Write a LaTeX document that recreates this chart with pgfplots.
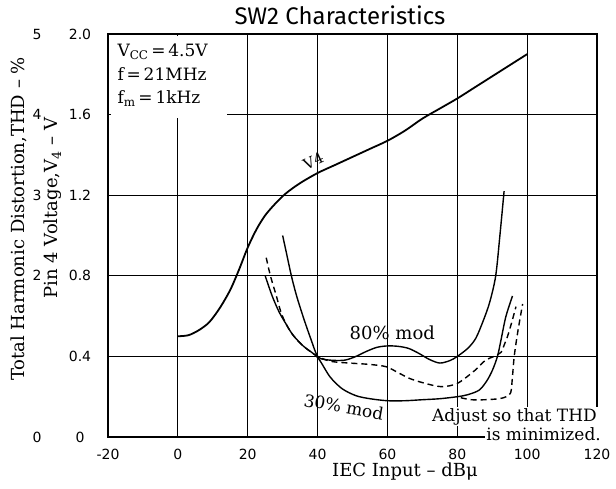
\documentclass[border=0pt]{standalone}
\usepackage{fontspec}
\setmainfont{DejaVu Serif}
\newfontfamily\titlefont{Fira Sans}
\newfontfamily\tickfont{DejaVu Sans}
\usepackage{pgfplots}
\pgfplotsset{compat=1.18}
\begin{document}
\begin{tikzpicture}
\useasboundingbox (-108pt,-51pt) rectangle (508pt,437pt);
\begin{axis}[
    width=489pt, height=403pt, scale only axis,
    xmin=-20, xmax=120, ymin=0, ymax=2,
    xtick={-20,0,20,40,60,80,100,120},
    ytick={0,0.4,0.8,1.2,1.6,2.0},
    yticklabels={0,0.4,0.8,1.2,1.6,2.0},
    xmajorgrids=true, ymajorgrids=true,
    grid style={draw=black, line width=1pt},
    axis line style={black, line width=1.6pt},
    tick style={draw=none},
    /pgf/number format/assume math mode=true,
    ticklabel style={font=\tickfont\fontsize{14}{14}\selectfont},
    xticklabel style={yshift=-9pt},
    yticklabel style={anchor=center, xshift=-28pt},
    clip=false,
]
% V4
\addplot[black, line width=1.8pt, smooth] coordinates {
(0,0.50) (3,0.505) (6,0.53) (9,0.57) (12,0.64) (15,0.73) (17.5,0.83) (20,0.94)
(22.5,1.03) (25,1.10) (28,1.16) (31,1.21) (35,1.26) (40,1.31) (45,1.35) (50,1.39)
(55,1.43) (60,1.47) (65,1.52) (70,1.58) (75,1.63) (80,1.68) (85,1.735) (90,1.79)
(95,1.845) (100,1.90)};
% 80% mod
\addplot[black, line width=1.4pt, smooth] coordinates {
(30,1.0) (31,0.92) (32.5,0.80) (34,0.70) (36,0.59) (38,0.49) (40,0.40) (42,0.385)
(45,0.38) (48,0.382) (51,0.40) (54,0.425) (57,0.445) (60,0.452) (63,0.45) (66,0.44)
(69,0.415) (72,0.385) (75,0.367) (78,0.38) (80,0.40) (83,0.44) (85.3,0.49)
(87.5,0.58) (89.3,0.67) (91,0.80) (92.2,1.0) (93.4,1.22)};
% 30% mod
\addplot[black, line width=1.4pt, smooth] coordinates {
(25,0.80) (27,0.70) (29,0.62) (31,0.56) (33,0.505) (36,0.45) (40,0.395) (43.5,0.30)
(47,0.24) (51,0.205) (55,0.19) (60,0.18) (65,0.18) (70,0.185) (75,0.19) (80,0.20)
(83,0.21) (86.3,0.233) (88.5,0.28) (90.1,0.333) (91.5,0.40) (92.5,0.48)
(93.9,0.597) (95.8,0.70)};
% dashed, middle
\addplot[black, line width=1.4pt, dash pattern=on 6pt off 4pt, smooth] coordinates {
(25.3,0.89) (26.5,0.80) (28.2,0.70) (29.5,0.62) (31,0.56) (33,0.505) (36,0.45)
(40,0.40) (44,0.375) (50,0.366) (55,0.36) (59.6,0.349) (63,0.32) (66.3,0.291)
(70,0.27) (75.3,0.25) (80,0.266) (85,0.33) (88,0.38) (90.5,0.40) (92.5,0.42)
(93.5,0.46) (94.4,0.50) (95.6,0.57) (96.8,0.647)};
% dashed, lowest
\addplot[black, line width=1.4pt, dash pattern=on 6pt off 4pt, smooth] coordinates {
(81,0.195) (84,0.185) (88,0.185) (92,0.19) (94,0.20) (95.3,0.22) (95.8,0.30)
(96.3,0.40) (97.3,0.52) (98.7,0.66)};
\node[rotate=25, font=\fontsize{15}{15}\selectfont] at (axis cs:38.8,1.37) {V4};
\node[font=\fontsize{18}{18}\selectfont] at (axis cs:61.4,0.516) {80\% mod};
\node[rotate=-10, font=\fontsize{17}{17}\selectfont] at (axis cs:47.5,0.15) {30\% mod};
\end{axis}
\begin{axis}[
    width=489pt, height=403pt, scale only axis,
    xmin=-20, xmax=120, ymin=0, ymax=5,
    hide x axis,
    axis y line*=left,
    y axis line style={draw=none},
    ytick={0,2,3,4,5},
    tick style={draw=none},
    /pgf/number format/assume math mode=true,
    yticklabel style={font=\tickfont\fontsize{14}{14}\selectfont, anchor=center, xshift=-71pt},
]
\end{axis}
% text box
\fill[white] (3pt,319pt) rectangle (119pt,401pt);
\node[anchor=base west, font=\fontsize{17}{17}\selectfont] at (6pt,380pt) {V\textsubscript{CC}\,=\,4.5V};
\node[anchor=base west, font=\fontsize{17}{17}\selectfont] at (6pt,356pt) {f\,=\,21MHz};
\node[anchor=base west, font=\fontsize{17}{17}\selectfont] at (6pt,333pt) {f\textsubscript{m}\,=\,1kHz};
\node[anchor=base east, fill=white, inner sep=1pt, font=\fontsize{17}{17}\selectfont] at (490pt,16pt) {Adjust so that THD};
\node[anchor=base east, fill=white, inner sep=1pt, font=\fontsize{17}{17}\selectfont] at (494pt,-3pt) {is minimized.};
% titles and labels
\node[font=\titlefont\fontsize{24}{24}\selectfont] at (232pt,422pt) {SW2 Characteristics};
\node[font=\fontsize{18}{18}\selectfont] at (297pt,-35pt) {IEC Input – dBμ};
\node[rotate=90, font=\fontsize{18}{18}\selectfont] at (-55pt,229pt) {Pin 4 Voltage,V\textsubscript{4} – V};
\node[rotate=90, font=\fontsize{18}{18}\selectfont] at (-89pt,218pt) {Total Harmonic Distortion,THD – \%};
\end{tikzpicture}
\end{document}
